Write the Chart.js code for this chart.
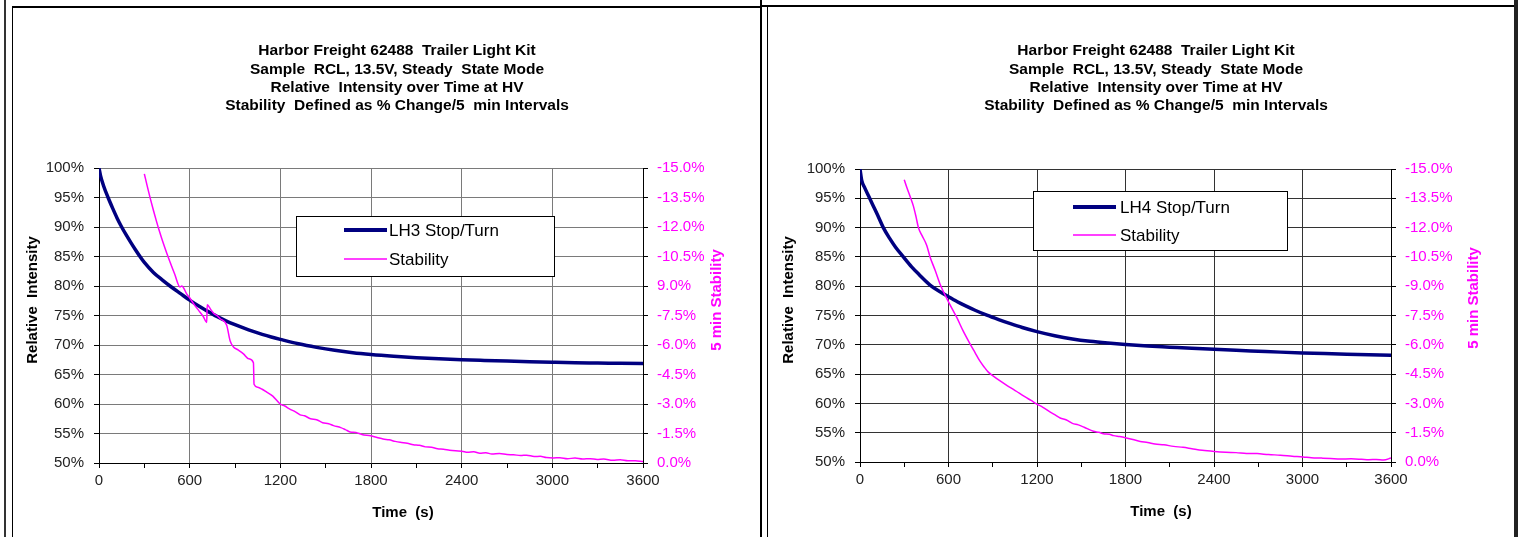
<!DOCTYPE html>
<html lang="en">
<head>
<meta charset="UTF-8">
<title>Harbor Freight 62488 Trailer Light Kit - Stability</title>
<script src="https://cdn.jsdelivr.net/npm/chart.js"></script>
<style>
  html, body { margin: 0; padding: 0; background: #fff; }
  body { width: 1520px; height: 537px; position: relative; overflow: hidden; }
  .rule { position: absolute; background: #000; }
  canvas { position: absolute; }
</style>
</head>
<body>
<!-- page frame -->
<div class="rule" style="left:4px;top:0;width:2px;height:537px;background:#333"></div>
<div class="rule" style="left:12px;top:6px;width:1px;height:531px"></div>
<div class="rule" style="left:12px;top:6px;width:750px;height:2px"></div>
<div class="rule" style="left:760px;top:0;width:2px;height:537px"></div>
<div class="rule" style="left:762px;top:5px;width:754px;height:2px"></div>
<div class="rule" style="left:767px;top:5px;width:1px;height:532px"></div>
<div class="rule" style="left:1514px;top:0;width:4px;height:537px;background:#222"></div>

<canvas id="chartLH3" width="747" height="529" style="left:13px;top:8px"></canvas>
<canvas id="chartLH4" width="745" height="529" style="left:768px;top:8px"></canvas>

<script>
// ---- data ----
const titleLH3 = [
  'Harbor Freight 62488  Trailer Light Kit',
  'Sample  RCL, 13.5V, Steady  State Mode',
  'Relative  Intensity over Time at HV',
  'Stability  Defined as % Change/5  min Intervals'
];
const titleLH4 = titleLH3;

const xTickLabels = ['0', '600', '1200', '1800', '2400', '3000', '3600'];
const intensityTickLabels = ['50%', '55%', '60%', '65%', '70%', '75%', '80%', '85%', '90%', '95%', '100%'];
// right axis, top to bottom (-15% at the top)
const stabilityTicksLH3 = ['-15.0%', '-13.5%', '-12.0%', '-10.5%', '9.0%', '-7.5%', '-6.0%', '-4.5%', '-3.0%', '-1.5%', '0.0%'];
const stabilityTicksLH4 = ['-15.0%', '-13.5%', '-12.0%', '-10.5%', '-9.0%', '-7.5%', '-6.0%', '-4.5%', '-3.0%', '-1.5%', '0.0%'];

// LH3 Stop/Turn relative intensity (%)
const timeLH3 = [0, 10, 30, 60, 90, 120, 150, 180, 210, 240, 270, 300, 360, 420, 470, 540, 600, 660, 720, 780,
  840, 900, 960, 1020, 1080, 1140, 1200, 1320, 1440, 1560, 1680, 1800, 1950, 2100, 2250, 2400, 2550, 2700,
  2850, 3000, 3150, 3300, 3450, 3600];
const intensityLH3 = [100, 98.7, 97.0, 95.0, 93.2, 91.5, 90.0, 88.65, 87.4, 86.2, 85.05, 84.0, 82.3, 81.0, 80.0,
  78.7, 77.6, 76.6, 75.7, 74.85, 74.1, 73.45, 72.85, 72.3, 71.8, 71.35, 70.95, 70.2, 69.6, 69.1, 68.7, 68.4,
  68.1, 67.85, 67.65, 67.5, 67.38, 67.27, 67.17, 67.08, 67.0, 66.95, 66.9, 66.85];

// LH3 5 min stability (%)
const stabTimeLH3 = [300, 320, 340, 360, 380, 400, 420, 448, 470, 500, 536, 548, 560, 580, 600, 630, 660, 690, 713,
  716, 740, 760, 780, 800, 845, 868, 890, 920, 956, 990, 1022, 1026, 1050, 1080, 1110, 1150, 1199, 1230, 1260,
  1300, 1331, 1360, 1400, 1440, 1480, 1520, 1552, 1600, 1630, 1662, 1700, 1740, 1798, 1840, 1880, 1920, 1960,
  1993, 2040, 2080, 2120, 2160, 2200, 2240, 2280, 2320, 2360, 2402, 2440, 2480, 2520, 2560, 2600, 2650, 2700,
  2744, 2790, 2830, 2880, 2920, 2960, 3007, 3050, 3100, 3150, 3200, 3250, 3296, 3340, 3400, 3450, 3500, 3550, 3600];
const stabilityLH3 = [-14.7, -14.05, -13.43, -12.85, -12.3, -11.78, -11.3, -10.68, -10.22, -9.62, -8.95, -9.0, -8.9,
  -8.6, -8.4, -8.05, -7.75, -7.45, -7.15, -8.05, -7.8, -7.6, -7.5, -7.35, -7.0, -6.2, -5.9, -5.75, -5.55, -5.3,
  -5.1, -4.0, -3.85, -3.75, -3.6, -3.4, -3.0, -2.9, -2.75, -2.6, -2.45, -2.4, -2.25, -2.2, -2.05, -2.0, -1.9,
  -1.8, -1.7, -1.58, -1.55, -1.45, -1.38, -1.3, -1.22, -1.18, -1.1, -1.05, -1.0, -0.93, -0.9, -0.82, -0.8,
  -0.72, -0.7, -0.65, -0.62, -0.6, -0.55, -0.57, -0.5, -0.52, -0.46, -0.48, -0.43, -0.42, -0.38, -0.4, -0.33,
  -0.34, -0.28, -0.26, -0.27, -0.22, -0.25, -0.2, -0.22, -0.18, -0.2, -0.14, -0.16, -0.11, -0.12, -0.07];

// LH4 Stop/Turn relative intensity (%)
const timeLH4 = [0, 12, 30, 60, 90, 120, 158, 200, 240, 294, 350, 400, 475, 540, 600, 660, 720, 780, 860, 940,
  1020, 1100, 1200, 1320, 1440, 1560, 1680, 1800, 1950, 2100, 2250, 2400, 2550, 2700, 2850, 3000, 3150, 3300,
  3450, 3600];
const intensityLH4 = [100, 98.0, 96.9, 95.3, 93.7, 92.1, 90.0, 88.2, 86.7, 85.0, 83.3, 82.0, 80.2, 79.1, 78.2,
  77.35, 76.6, 75.9, 75.05, 74.3, 73.6, 72.95, 72.25, 71.55, 71.0, 70.6, 70.3, 70.05, 69.8, 69.6, 69.4, 69.22,
  69.05, 68.9, 68.75, 68.62, 68.5, 68.4, 68.3, 68.2];

// LH4 5 min stability (%)
const stabTimeLH4 = [300, 320, 344, 362, 380, 396, 420, 452, 475, 510, 543, 600, 656, 700, 746, 780, 810, 840, 870,
  904, 960, 1000, 1040, 1080, 1120, 1160, 1196, 1240, 1280, 1320, 1357, 1400, 1440, 1480, 1520, 1583, 1620,
  1650, 1690, 1720, 1760, 1805, 1850, 1900, 1950, 2000, 2060, 2126, 2190, 2250, 2320, 2402, 2480, 2550, 2620,
  2692, 2770, 2850, 2930, 3004, 3060, 3130, 3190, 3256, 3330, 3400, 3450, 3500, 3550, 3600];
const stabilityLH4 = [-14.45, -14.0, -13.5, -13.1, -12.55, -12.0, -11.6, -11.1, -10.5, -9.8, -9.1, -8.2, -7.4,
  -6.7, -6.05, -5.6, -5.2, -4.88, -4.6, -4.4, -4.1, -3.9, -3.72, -3.52, -3.33, -3.15, -2.98, -2.8, -2.6, -2.42,
  -2.25, -2.15, -1.98, -1.9, -1.78, -1.57, -1.52, -1.45, -1.42, -1.35, -1.3, -1.23, -1.15, -1.05, -1.0, -0.92,
  -0.88, -0.8, -0.75, -0.68, -0.6, -0.54, -0.5, -0.48, -0.44, -0.43, -0.38, -0.35, -0.3, -0.26, -0.22, -0.2,
  -0.18, -0.15, -0.16, -0.14, -0.12, -0.13, -0.1, -0.2];

const NAVY = '#000080';
const MAGENTA = '#ff00ff';
const FONT = '"Liberation Sans", Arial, Helvetica, sans-serif';

// titles, axis titles and the boxed legend inside the plot
const panelText = {
  id: 'panelText',
  afterDraw(chart, args, o) {
    const ctx = chart.ctx;
    ctx.save();
    ctx.textBaseline = 'middle';

    // chart title
    ctx.fillStyle = '#000';
    ctx.font = 'bold 15.5px ' + FONT;
    ctx.textAlign = 'center';
    o.title.forEach((t, i) => ctx.fillText(t, o.titleX, o.titleY + i * 18.3));

    // axis titles
    ctx.font = 'bold 15px ' + FONT;
    ctx.fillText('Time  (s)', o.xTitle[0], o.xTitle[1]);
    ctx.save();
    ctx.translate(o.yTitle[0], o.yTitle[1]);
    ctx.rotate(-Math.PI / 2);
    ctx.fillText('Relative  Intensity', 0, 0);
    ctx.restore();
    ctx.save();
    ctx.fillStyle = MAGENTA;
    ctx.translate(o.y2Title[0], o.y2Title[1]);
    ctx.rotate(-Math.PI / 2);
    ctx.fillText('5 min Stability', 0, 0);
    ctx.restore();

    // legend box
    const b = o.box;
    ctx.fillStyle = '#fff';
    ctx.fillRect(b[0], b[1], b[2], b[3]);
    ctx.strokeStyle = '#000';
    ctx.lineWidth = 1;
    ctx.strokeRect(b[0] + 0.5, b[1] + 0.5, b[2], b[3]);
    ctx.font = '17px ' + FONT;
    ctx.textAlign = 'left';
    chart.data.datasets.forEach((ds, i) => {
      const y = b[1] + o.rows[i];
      ctx.strokeStyle = ds.borderColor;
      ctx.lineWidth = i === 0 ? 4 : 1.5;
      ctx.beginPath();
      ctx.moveTo(b[0] + o.line[0], y);
      ctx.lineTo(b[0] + o.line[1], y);
      ctx.stroke();
      ctx.fillStyle = '#000';
      ctx.fillText(ds.label, b[0] + o.textX, y + 1);
    });
    ctx.restore();
  }
};

function buildChart(id, p) {
  const pts = (xs, ys) => xs.map((x, i) => ({ x: x, y: ys[i] }));
  return new Chart(document.getElementById(id), {
    type: 'line',
    data: {
      datasets: [
        {
          label: p.name,
          data: pts(p.time, p.intensity),
          borderColor: NAVY,
          borderWidth: 3.5,
          pointRadius: 0,
          cubicInterpolationMode: 'monotone',
          yAxisID: 'y',
          order: 1
        },
        {
          label: 'Stability',
          data: pts(p.stabTime, p.stability),
          borderColor: MAGENTA,
          borderWidth: 1.5,
          pointRadius: 0,
          cubicInterpolationMode: 'monotone',
          yAxisID: 'y2',
          order: 0
        }
      ]
    },
    options: {
      responsive: false,
      animation: false,
      devicePixelRatio: 1,
      layout: { padding: { top: p.plotTop, left: 0, right: 0, bottom: 0 } },
      plugins: {
        legend: { display: false },
        title: { display: false },
        tooltip: { enabled: false },
        panelText: p.text
      },
      scales: {
        x: {
          type: 'linear',
          min: 0,
          max: 3600,
          afterFit: s => { s.height = p.bottomH; },
          afterBuildTicks: s => { s.ticks = []; for (let v = 0; v <= 3600; v += 300) s.ticks.push({ value: v }); },
          ticks: {
            autoSkip: false,
            maxRotation: 0,
            padding: 4,
            color: '#222',
            font: { family: FONT, size: 15 },
            callback: v => (v % 600 === 0 ? xTickLabels[v / 600] : '')
          },
          grid: {
            color: c => (c.tick && c.tick.value % 600 === 0 ? p.gridColor : 'rgba(0,0,0,0)'),
            tickColor: '#000',
            tickLength: 5
          },
          border: { color: '#000' }
        },
        y: {
          position: 'left',
          min: 50,
          max: 100,
          afterFit: s => { s.width = p.leftW; },
          ticks: {
            stepSize: 5,
            padding: 10,
            color: '#222',
            font: { family: FONT, size: 15 },
            callback: v => intensityTickLabels[Math.round((v - 50) / 5)]
          },
          grid: { color: p.gridColor, tickColor: '#000', tickLength: 5 },
          border: { color: '#000' }
        },
        y2: {
          position: 'right',
          min: -15,
          max: 0,
          reverse: true,
          afterFit: s => { s.width = p.rightW; },
          ticks: {
            stepSize: 1.5,
            padding: 9,
            color: MAGENTA,
            font: { family: FONT, size: 15 },
            callback: v => p.stabTicks[Math.round((v + 15) / 1.5)]
          },
          grid: { drawOnChartArea: false, tickColor: '#000', tickLength: 5 },
          border: { color: '#000' }
        }
      }
    },
    plugins: [panelText]
  });
}

buildChart('chartLH3', {
  name: 'LH3 Stop/Turn',
  time: timeLH3, intensity: intensityLH3,
  stabTime: stabTimeLH3, stability: stabilityLH3,
  stabTicks: stabilityTicksLH3,
  gridColor: '#7a7a7a',
  plotTop: 160, leftW: 86, rightW: 117, bottomH: 74,
  text: {
    title: titleLH3, titleX: 384, titleY: 43,
    xTitle: [390, 505], yTitle: [20, 292], y2Title: [704, 292],
    box: [283, 208, 258, 60], rows: [14, 43], line: [48, 91], textX: 93
  }
});

buildChart('chartLH4', {
  name: 'LH4 Stop/Turn',
  time: timeLH4, intensity: intensityLH4,
  stabTime: stabTimeLH4, stability: stabilityLH4,
  stabTicks: stabilityTicksLH4,
  gridColor: '#333',
  plotTop: 161, leftW: 92, rightW: 122, bottomH: 75,
  text: {
    title: titleLH4, titleX: 388, titleY: 43,
    xTitle: [393, 504], yTitle: [21, 292], y2Title: [706, 290],
    box: [265, 183, 254, 59], rows: [16, 44], line: [40, 83], textX: 87
  }
});
</script>
</body>
</html>
